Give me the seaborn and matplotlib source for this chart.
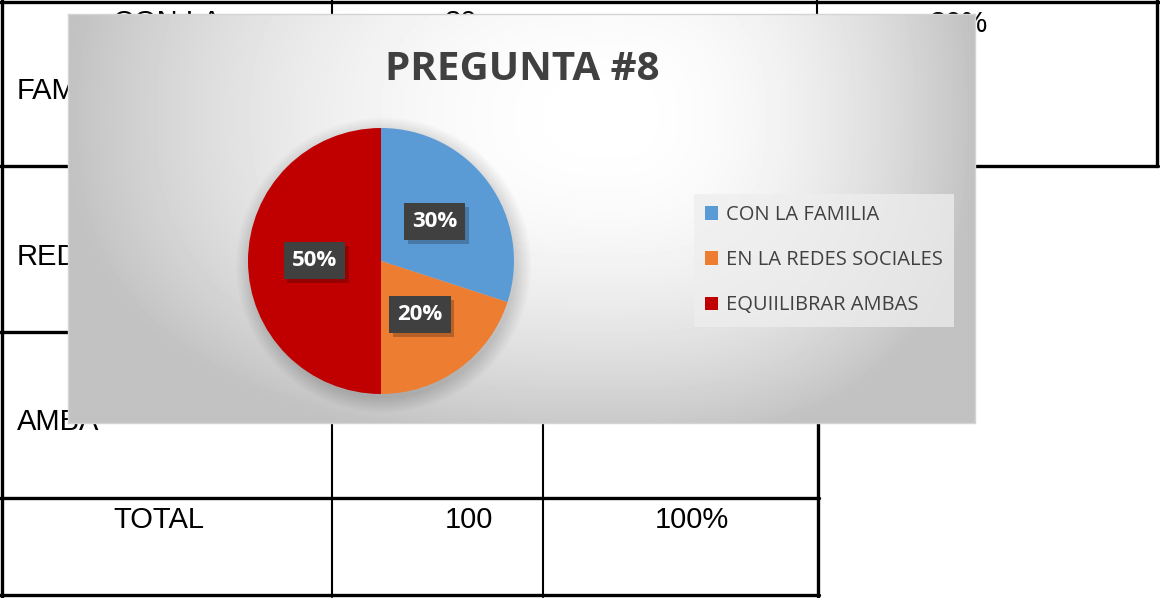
import numpy as np
import matplotlib
matplotlib.use("Agg")
import matplotlib.pyplot as plt
import matplotlib.patheffects as pe
from matplotlib.patches import Circle
import seaborn as sns

# pie data
categories = ["CON LA FAMILIA", "EN LA REDES SOCIALES", "EQUIILIBRAR AMBAS"]
percent = [30, 20, 50]
colors = ["#5B9BD5", "#ED7D31", "#C00000"]

# table that sits behind the chart (mostly hidden)
table_labels = ["CON LA", "FAM", "RED", "AMBA", "TOTAL"]
table_counts = ["30", "", "", "", "100"]
table_pcts = ["30%", "", "", "", "100%"]

sns.set_theme(style="white")
plt.rcParams["font.family"] = ["Open Sans", "DejaVu Sans"]

W, H = 1160, 598
fig = plt.figure(figsize=(W / 100, H / 100), dpi=100)


def frac(x0, y0, x1, y1):
    # pixel box (top-left origin) -> figure fraction rect
    return [x0 / W, 1 - y1 / H, (x1 - x0) / W, (y1 - y0) / H]


# ---- background table ----
bg = fig.add_axes([0, 0, 1, 1], zorder=0)
bg.set_xlim(0, W)
bg.set_ylim(H, 0)
bg.axis("off")

thick, thin = 2.4, 1.5
bg.plot([0, W], [2, 2], color="black", lw=thick)
bg.plot([2, 2], [0, H], color="black", lw=thick)
bg.plot([0, 1158], [166, 166], color="black", lw=thick)
bg.plot([1157, 1157], [0, 166], color="black", lw=thick)
bg.plot([332, 332], [0, 166], color="black", lw=thin)
bg.plot([817, 817], [0, 166], color="black", lw=thin)
for yl in [332, 498, 595]:
    bg.plot([0, 819], [yl, yl], color="black", lw=thick)
bg.plot([818, 818], [166, 597], color="black", lw=thick)
bg.plot([332, 332], [166, 597], color="black", lw=thin)
bg.plot([543, 543], [166, 597], color="black", lw=thin)

tfont = dict(family="Liberation Sans", fontsize=21, color="black", va="baseline")
label_pos = [(113, 31), (17, 99), (17, 265), (17, 430), (113, 528)]
for txt, (x, y) in zip(table_labels, label_pos):
    bg.text(x, y, txt, ha="left", **tfont)
count_pos = [(445, 31), None, None, None, (445, 528)]
for txt, p in zip(table_counts, count_pos):
    if txt:
        bg.text(p[0], p[1], txt, ha="left", **tfont)
pct_pos = [(930, 32), None, None, None, (655, 528)]
for txt, p in zip(table_pcts, pct_pos):
    if txt:
        bg.text(p[0], p[1], txt, ha="left", **tfont)

# ---- chart area with soft gradient ----
ch = fig.add_axes(frac(68, 14, 975, 423), zorder=1)
gh, gw = 409, 907
yy, xx = np.mgrid[0:1:gh * 1j, 0:1:gw * 1j]
cx, cy = 0.6, 0.25
dx = np.where(xx < cx, (cx - xx) / cx, (xx - cx) / (1 - cx))
dy = np.abs(yy - cy) / 0.8
d = np.clip((dx ** 2.5 + dy ** 2.5) ** (1 / 2.5), 0, 1)
img = 1 - (d ** 2.0) * (1 - 0xC2 / 255)
ch.imshow(img, cmap="gray", vmin=0, vmax=1, extent=(0, 1, 1, 0), aspect="auto",
          interpolation="bilinear")
ch.set_xlim(0, 1)
ch.set_ylim(1, 0)
ch.set_xticks([])
ch.set_yticks([])
for s in ch.spines.values():
    s.set_edgecolor("#d4d4d4")
    s.set_linewidth(1)

fig.text(522 / W, 1 - 69 / H, "PREGUNTA #8", ha="center", va="center",
         fontsize=29, fontweight="bold", color="#404040", zorder=3)

# ---- pie ----
pa = fig.add_axes(frac(248, 128, 514, 394), zorder=2)
pa.set_facecolor("none")
for k in range(12):
    pa.add_patch(Circle((0.02, -0.03), 1.0 + 0.01 * k, color="black",
                        alpha=0.012, lw=0, clip_on=False, zorder=0))
wedges, _, autotexts = pa.pie(
    percent, colors=colors, startangle=90, counterclock=False,
    autopct=lambda p: f"{p:.0f}%", pctdistance=0.5, radius=1,
    wedgeprops=dict(linewidth=0),
    textprops=dict(color="white", fontsize=16, fontweight="bold"),
)
for t in autotexts:
    t.set_bbox(dict(boxstyle="square,pad=0.36", fc="#404040", ec="none"))
    t.get_bbox_patch().set_path_effects(
        [pe.SimplePatchShadow(offset=(2.5, -2.5), shadow_rgbFace="black", alpha=0.22),
         pe.Normal()])
pa.set_xlim(-1, 1)
pa.set_ylim(-1, 1)
pa.axis("off")

# ---- legend ----
leg = fig.legend(
    wedges, categories, loc="upper left",
    bbox_to_anchor=(694 / W, 1 - 194 / H), frameon=True, fancybox=False,
    facecolor="#eeeeee", edgecolor="none", framealpha=0.75,
    handlelength=0.65, handleheight=0.65, handletextpad=0.4,
    labelspacing=1.25, fontsize=14.5, labelcolor="#404040",
    borderpad=0.55, borderaxespad=0,
)

fig.savefig("out.png", dpi=100)
